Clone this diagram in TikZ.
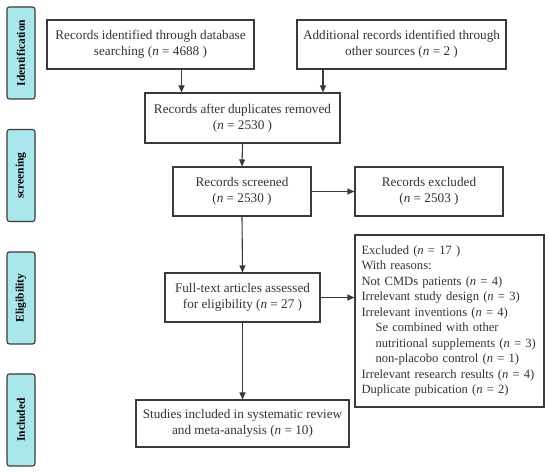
\documentclass[tikz,border=0pt]{standalone}
\usepackage{fontspec}
\setmainfont{Liberation Serif}
\usetikzlibrary{arrows.meta,calc}
\definecolor{lineg}{HTML}{3A3A3A}
\definecolor{sidefill}{HTML}{A9E7EC}
\tikzset{
  box/.style={draw=lineg, line width=1.1pt, align=center, inner sep=2pt, font=\fontsize{13.2}{16}\selectfont, text=black!80},
  side/.style={draw=lineg, line width=1.1pt, fill=sidefill, rounded corners=2.5pt, rotate=90, minimum width=92pt, minimum height=28pt, font=\fontsize{11.5}{13}\selectfont\bfseries, inner sep=0pt},
  arr/.style={draw=lineg, line width=1.1pt, -{Triangle[length=7pt,width=6pt]}}
}
\begin{document}
\begin{tikzpicture}[x=1pt,y=-1pt]
\useasboundingbox (0,0) rectangle (550,473);
\node[side] (s1) at (21,53) {Identification};
\node[side] (s2) at (21,175.5) {screening};
\node[side] (s3) at (21,298) {Eligibility};
\node[side] (s4) at (21,420) {Included};

\node[box, minimum width=207pt, minimum height=49pt] (b1) at (150.5,44.5) {Records identified through database\\searching (\textit{n} = 4688 )};
\node[box, minimum width=209pt, minimum height=49pt] (b2) at (401.5,44.5) {Additional records identified through\\other sources (\textit{n} = 2 )};
\node[box, minimum width=195pt, minimum height=50pt] (b3) at (242.5,118) {Records after duplicates removed\\(\textit{n} = 2530 )};
\node[box, minimum width=138pt, minimum height=49pt] (b4) at (242,191.5) {Records screened\\(\textit{n} = 2530 )};
\node[box, minimum width=148pt, minimum height=49pt] (b5) at (429,191.5) {Records excluded\\(\textit{n} = 2503 )};
\node[box, minimum width=155pt, minimum height=49pt] (b6) at (242.5,297.5) {Full-text articles assessed\\for eligibility (\textit{n} = 27 )};
\node[box, minimum height=172pt, align=left, text width=176pt, inner xsep=6.5pt, inner ysep=2pt, font=\fontsize{12.6}{15.5}\selectfont] (b7) at (449.5,321) {Excluded (\textit{n} = 17 )\\With reasons:\\Not CMDs patients (\textit{n} = 4)\\Irrelevant study design (\textit{n} = 3)\\Irrelevant inventions (\textit{n} = 4)\\\hspace*{14pt}Se combined with other\\\hspace*{14pt}nutritional supplements (\textit{n} = 3)\\\hspace*{14pt}non-placobo control (\textit{n} = 1)\\Irrelevant research results (\textit{n} = 4)\\Duplicate pubication (\textit{n} = 2)};
\node[box, minimum width=213pt, minimum height=47pt] (b8) at (242.5,423.5) {Studies included in systematic review\\and meta-analysis (\textit{n} = 10)};

\draw[arr] ([xshift=31pt]b1.south) -- ([xshift=31pt]b1.south |- b3.north);
\draw[arr] ([xshift=-78.5pt]b2.south) -- ([xshift=-78.5pt]b2.south |- b3.north);
\draw[arr] (b3.south) -- (b4.north);
\draw[arr] (b4.east) -- (b5.west);
\draw[arr] (b4.south) -- (b6.north);
\draw[arr] (b6.east) -- (b6.east -| b7.west);
\draw[arr] (b6.south) -- (b8.north);
\end{tikzpicture}
\end{document}
